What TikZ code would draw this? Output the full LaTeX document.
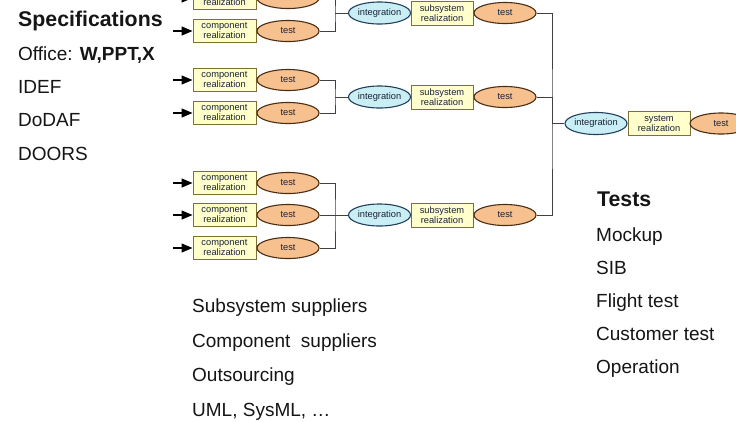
\documentclass[tikz,border=0pt]{standalone}
\usepackage{fontspec}
\setmainfont{Liberation Sans}
\usetikzlibrary{arrows.meta,shapes.geometric}
\definecolor{compfill}{HTML}{FFFFCC}
\definecolor{compdraw}{HTML}{7F6E35}
\definecolor{testfill}{HTML}{F7C18F}
\definecolor{testdraw}{HTML}{4A2E14}
\definecolor{intfill}{HTML}{C9EFF5}
\definecolor{intdraw}{HTML}{223F5C}
\definecolor{lbl}{HTML}{1C2238}
\definecolor{wire}{HTML}{404040}
\definecolor{txt}{HTML}{151515}
\tikzset{
  small/.style={font=\fontsize{9.3}{10}\selectfont, text=lbl},
  compbox/.style={small, draw=compdraw, fill=compfill, line width=1pt, rectangle, minimum width=63pt, minimum height=23pt, inner sep=0pt, align=center},
  subbox/.style={compbox, minimum width=62pt, minimum height=24pt},
  testell/.style={small, draw=testdraw, fill=testfill, line width=1.1pt, ellipse, minimum width=62pt, minimum height=21pt, inner sep=0pt},
  intell/.style={small, draw=intdraw, fill=intfill, line width=1.1pt, ellipse, minimum width=62pt, minimum height=22pt, inner sep=0pt},
  wirel/.style={draw=wire, line width=0.9pt},
  inarrow/.style={draw=black, line width=1.3pt, -{Triangle[length=11pt,width=9pt]}},
  body/.style={font=\fontsize{19}{22}\selectfont, text=txt, anchor=base west, inner sep=0pt},
  head/.style={font=\fontsize{21.3}{24}\selectfont\bfseries, text=txt, anchor=base west, inner sep=0pt}
}
\begin{document}
\begin{tikzpicture}[x=1pt,y=-1pt]
\useasboundingbox (0,0) rectangle (736,421);
\fill[white] (0,0) rectangle (736,421);

% left text
\node[head] (spec) at (18,26) {Specifications};
\node[body] (office) at (18,60) {Office: \textbf{W,PPT,X}};
\node[body] (idef) at (18,93) {IDEF};
\node[body] (dodaf) at (18,126) {DoDAF};
\node[body] (doors) at (18,160) {DOORS};

% bottom text
\node[body] (subsup) at (192,312) {Subsystem suppliers};
\node[body] (compsup) at (192,347) {Component~~suppliers};
\node[body] (outs) at (192,381) {Outsourcing};
\node[body] (uml) at (192,416) {UML, SysML, …};

% tests text
\node[head] (tests) at (597,206) {Tests};
\node[body] (mock) at (596,241) {Mockup};
\node[body] (sib) at (596,274) {SIB};
\node[body] (flight) at (596,307) {Flight test};
\node[body] (cust) at (596,340) {Customer test};
\node[body] (oper) at (596,373) {Operation};

% component level
\foreach \n/\y in {1/-2,2/31,3/80,4/113,5/183,6/215,7/248}{
  \node[compbox] (c\n) at (224.5,\y) {component\\realization};
  \node[testell] (t\n) at (288,\y) {test};
  \coordinate (a\n) at (173,\y);
  \draw[inarrow] (a\n) -- (c\n.west);
}

% subsystem level
\foreach \n/\y in {1/13,2/97,3/215}{
  \node[intell] (i\n) at (379.5,\y) {integration};
  \node[subbox] (s\n) at (442,\y) {subsystem\\realization};
  \node[testell] (ts\n) at (505,\y) {test};
}

% junctions of component groups
\coordinate (j1) at (335,13);
\coordinate (j2) at (335,97);
\coordinate (j3) at (335,215);
\draw[wirel] (t1.east) -| (j1) |- (t2.east);
\draw[wirel] (j1) -- (i1.west);
\draw[wirel] (t3.east) -| (j2) |- (t4.east);
\draw[wirel] (j2) -- (i2.west);
\draw[wirel] (t5.east) -| (j3) |- (t7.east);
\draw[wirel] (t6.east) -- (i3.west);

% system level
\node[intell] (isys) at (596,123.5) {integration};
\node[subbox] (ssys) at (659,123.5) {system\\realization};
\node[testell] (tsys) at (721,123.5) {test};
\coordinate (jsys) at (552,123.5);
\draw[wirel] (ts1.east) -| (jsys) |- (ts3.east);
\draw[wirel] (ts2.east) -| (jsys);
\draw[wirel] (jsys) -- (isys.west);
\end{tikzpicture}
\end{document}
